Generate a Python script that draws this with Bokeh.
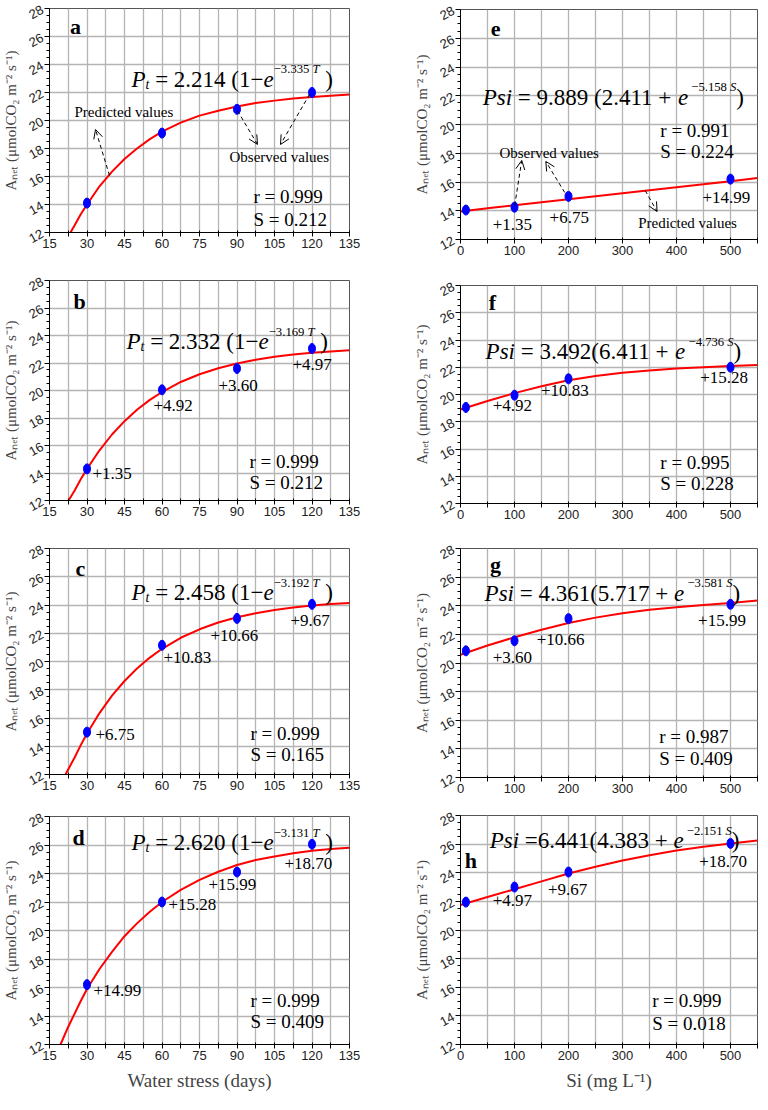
import numpy as np
from bokeh.plotting import figure
from bokeh.models import Range1d, FixedTicker, Label, Arrow, OpenHead
from bokeh.layouts import row, column
from bokeh.embed import file_html
from bokeh.resources import INLINE

# ---------------- data ----------------
days = [30, 60, 90, 120]
si_levels = [10, 100, 200, 500]

obs_a = [14.1, 19.1, 20.8, 22.0]
obs_b = [14.3, 20.05, 21.6, 23.05]
obs_c = [15.0, 21.15, 23.05, 24.05]
obs_d = [16.2, 22.0, 24.1, 26.05]
obs_e = [14.05, 14.25, 15.0, 16.2]
obs_f = [19.05, 19.95, 21.15, 22.0]
obs_g = [20.85, 21.55, 23.1, 24.1]
obs_h = [21.95, 23.0, 24.05, 26.05]

fit_days = [25, 27.5, 30, 35, 40, 45, 50, 55, 60, 67.5, 75, 82.5, 90, 97.5, 105, 112.5, 120, 127.5, 135]
fit_a_x = [23.4] + fit_days
fit_a_y = [12.0, 12.5, 13.3, 14.0, 15.3, 16.35, 17.25, 18.0, 18.65, 19.2, 19.85, 20.35, 20.7,
           21.0, 21.25, 21.42, 21.57, 21.68, 21.77, 21.85]
fit_b_x = [22.6] + fit_days
fit_b_y = [12.0, 12.71, 13.54, 14.3, 15.65, 16.8, 17.77, 18.6, 19.3, 19.89, 20.62, 21.18, 21.62,
           21.97, 22.24, 22.45, 22.62, 22.74, 22.84, 22.92]
fit_c_x = [21.4] + fit_days
fit_c_y = [12.0, 13.19, 14.08, 14.9, 16.35, 17.58, 18.62, 19.51, 20.26, 20.9, 21.68, 22.28, 22.76,
           23.13, 23.42, 23.65, 23.82, 23.96, 24.07, 24.15]
fit_d_x = [19.4, 22.5] + fit_days
fit_d_y = [12.0, 13.25, 14.15, 15.05, 15.9, 17.3, 18.5, 19.6, 20.5, 21.3, 22.0, 22.85, 23.55, 24.12,
           24.6, 24.95, 25.2, 25.42, 25.6, 25.72, 25.8]

fit_si_x = [0, 50, 100, 150, 200, 250, 300, 350, 400, 450, 500, 550]
fit_e_y = [13.95, 14.17, 14.38, 14.59, 14.8, 15.01, 15.22, 15.43, 15.64, 15.85, 16.06, 16.27]
fit_f_y = [18.9, 19.52, 20.1, 20.6, 21.05, 21.35, 21.6, 21.77, 21.9, 22.0, 22.1, 22.17]
fit_g_y = [20.58, 21.22, 21.8, 22.32, 22.8, 23.17, 23.48, 23.72, 23.9, 24.06, 24.2, 24.36]
fit_h_y = [21.75, 22.3, 22.85, 23.4, 23.95, 24.42, 24.85, 25.22, 25.55, 25.82, 26.05, 26.25]

x_ticks_days = [15, 30, 45, 60, 75, 90, 105, 120, 135]
x_minor_days = [22.5, 37.5, 52.5, 67.5, 82.5, 97.5, 112.5, 127.5]
x_ticks_si = [0, 100, 200, 300, 400, 500]
x_minor_si = [50, 150, 250, 350, 450, 550]
y_ticks = [12, 14, 16, 18, 20, 22, 24, 26, 28]

gains_b = ["+1.35", "+4.92", "+3.60", "+4.97"]
gains_c = ["+6.75", "+10.83", "+10.66", "+9.67"]
gains_d = ["+14.99", "+15.28", "+15.99", "+18.70"]
gains_e = ["+1.35", "+6.75", "+14.99"]
gains_f = ["+4.92", "+10.83", "+15.28"]
gains_g = ["+3.60", "+10.66", "+15.99"]
gains_h = ["+4.97", "+9.67", "+18.70"]

eq_coef = {"a": ("2.214", "3.335"), "b": ("2.332", "3.169"),
           "c": ("2.458", "3.192"), "d": ("2.620", "3.131"),
           "e": ("9.889", "2.411", "5.158"), "f": ("3.492", "6.411", "4.736"),
           "g": ("4.361", "5.717", "3.581"), "h": ("6.441", "4.383", "2.151")}
stats = {"a": ("0.999", "0.212"), "b": ("0.999", "0.212"), "c": ("0.999", "0.165"),
         "d": ("0.999", "0.409"), "e": ("0.991", "0.224"), "f": ("0.995", "0.228"),
         "g": ("0.987", "0.409"), "h": ("0.999", "0.018")}

# ---------------- styling helpers ----------------
SERIF = "Liberation Serif"
SANS = "Liberation Sans"
GRID = "#b4b4b4"
W_REG = {c: 0.5 for c in "0123456789"}
W_REG.update({".": 0.25, " ": 0.25, "=": 0.564, "+": 0.564, "−": 0.564, "(": 0.333, ")": 0.333})
W_IT = {"P": 0.611, "t": 0.278, "s": 0.389, "i": 0.278, "e": 0.444, "T": 0.556, "S": 0.5, " ": 0.25}


def tw(s, it):
    tab = W_IT if it else W_REG
    return sum(tab.get(c, 0.5) for c in s)


def rich(p, x, y, pieces, size):
    off = 0.0
    for txt_, it, scale, dy in pieces:
        fs = size * scale
        lead = len(txt_) - len(txt_.lstrip(" "))
        trail = len(txt_) - len(txt_.rstrip(" "))
        off += lead * 0.25 * fs
        core = txt_.strip(" ")
        if core:
            p.add_layout(Label(x=x, y=y, x_offset=off, y_offset=dy, text=core,
                               text_font=SERIF, text_font_size=f"{fs:.1f}px",
                               text_font_style="italic" if it else "normal",
                               text_baseline="alphabetic", text_align="left", text_color="black"))
        off += tw(core, it) * fs + trail * 0.25 * fs


def eq_t(c):
    coef, k = c
    return [("P", 1, 1, 0), ("t", 1, 0.6, -5), (f" = {coef} (1−", 0, 1, 0), ("e", 1, 1, 0),
            (f"−{k} ", 0, 0.55, 10), ("T", 1, 0.55, 10), (" )", 0, 1, 0)]


def eq_s(c, sp=" ", gap=" "):
    a, b, k = c
    return [("Psi", 1, 1, 0), (f" ={sp}{a}{gap}({b} + ", 0, 1, 0), ("e", 1, 1, 0),
            (f" −{k} ", 0, 0.55, 10), ("S", 1, 0.55, 10), (")", 0, 1, 0)]


def base_fig(kind, frame_h, top, bottom, xlabel=None):
    if kind == "days":
        xr, ticks, minor = Range1d(15, 135), x_ticks_days, x_minor_days
        left, fw, right = 40, 300, 32
    else:
        xr, ticks, minor = Range1d(0, 550), x_ticks_si, x_minor_si
        left, fw, right = 79, 297, 1
    p = figure(x_range=xr, y_range=Range1d(12, 28), frame_width=fw, frame_height=frame_h,
               min_border_left=left, min_border_right=right, min_border_top=top,
               min_border_bottom=bottom, output_backend="svg", toolbar_location=None)
    p.xaxis.ticker = FixedTicker(ticks=ticks, minor_ticks=minor)
    yminor = [v for v in np.arange(12.5, 28, 0.5) if v not in y_ticks]
    p.yaxis.ticker = FixedTicker(ticks=y_ticks, minor_ticks=yminor)
    for ax in (p.xaxis[0], p.yaxis[0]):
        ax.axis_line_color = "black"
        ax.major_tick_line_color = "black"
        ax.minor_tick_line_color = "black"
        ax.major_label_text_font = SANS
        ax.major_label_text_font_size = "13px"
        ax.major_label_text_color = "#222222"
        ax.major_label_standoff = 2
    p.xaxis.major_tick_out = 4
    p.xaxis.major_tick_in = 2
    p.xaxis.minor_tick_out = 4
    p.xaxis.minor_tick_in = 2
    p.yaxis.major_tick_out = 5
    p.yaxis.major_tick_in = 0
    p.yaxis.minor_tick_out = 3
    p.yaxis.minor_tick_in = 0
    p.yaxis.major_label_orientation = 0.5
    p.yaxis.axis_label = "Aₙₑₜ (μmolCO₂ m⁻² s⁻¹)"
    p.yaxis.axis_label_text_font = SERIF
    p.yaxis.axis_label_text_font_style = "normal"
    p.yaxis.axis_label_text_font_size = "15px"
    p.yaxis.axis_label_standoff = 3
    if xlabel:
        p.xaxis.axis_label = xlabel
        p.xaxis.axis_label_text_font = SERIF
        p.xaxis.axis_label_text_font_style = "normal"
        p.xaxis.axis_label_text_font_size = "19px"
        p.xaxis.axis_label_standoff = 7
    p.xgrid.grid_line_color = GRID
    p.xgrid.grid_line_width = 1.3
    p.xgrid.minor_grid_line_color = GRID
    p.xgrid.minor_grid_line_width = 1.3
    p.ygrid.grid_line_color = GRID
    p.ygrid.grid_line_width = 1.3
    p.outline_line_color = "#555555"
    p.outline_line_width = 1
    p.background_fill_color = "white"
    p.border_fill_color = "white"
    return p


def add_series(p, xs, obs, fx, fy):
    p.line(fx, fy, line_color="#ff0000", line_width=2)
    p.ellipse(x=xs, y=obs, width=7, height=10, width_units="screen", height_units="screen",
              fill_color="#0000ff", line_color="#0000ff")


def txt(p, x, y, s, size, bold=False, align="left"):
    p.add_layout(Label(x=x, y=y, text=s, text_font=SERIF, text_font_size=f"{size}px",
                       text_font_style="bold" if bold else "normal", text_baseline="middle",
                       text_align=align, text_color="black"))


def arrow(p, x0, y0, x1, y1):
    p.add_layout(Arrow(x_start=x0, y_start=y0, x_end=x1, y_end=y1, line_color="black",
                       line_width=1, line_dash="4 3",
                       end=OpenHead(size=9, line_width=1, line_color="black")))


def stat_text(p, key, x, y1, y2):
    r, s = stats[key]
    txt(p, x, y1, f"r = {r}", 19)
    txt(p, x, y2, f"S = {s}", 19)


def gains(p, labels, pos):
    for lab, (x, y) in zip(labels, pos):
        txt(p, x, y, lab, 17)


# ---------------- panels ----------------
# left column
pa = base_fig("days", 224, 8, 30)
add_series(pa, days, obs_a, fit_a_x, fit_a_y)
txt(pa, 25.4, 26.75, "a", 22, bold=True, align="center")
rich(pa, 47.8, 22.95, eq_t(eq_coef["a"]), 23)
stat_text(pa, "a", 96.6, 14.57, 12.93)
txt(pa, 25, 20.64, "Predicted values", 15)
txt(pa, 87, 17.36, "Observed values", 15)
arrow(pa, 39, 16.07, 33.4, 19.36)
arrow(pa, 90.2, 20.7, 98.2, 18.29)
arrow(pa, 119, 21.86, 107.4, 18.29)

pb = base_fig("days", 220, 18, 30)
add_series(pb, days, obs_b, fit_b_x, fit_b_y)
txt(pb, 27, 26.45, "b", 22, bold=True, align="center")
rich(pb, 45.8, 23.53, eq_t(eq_coef["b"]), 23)
stat_text(pb, "b", 95, 14.84, 13.3)
gains(pb, gains_b, [(32.2, 13.96), (56.6, 18.9), (82.6, 20.4), (112.2, 21.9)])

pc = base_fig("days", 226, 18, 30)
add_series(pc, days, obs_c, fit_c_x, fit_c_y)
txt(pc, 27.4, 26.6, "c", 22, bold=True, align="center")
rich(pc, 47.8, 24.86, eq_t(eq_coef["c"]), 23)
stat_text(pc, "c", 95.4, 14.89, 13.41)
gains(pc, gains_c, [(33.4, 14.82), (60.6, 20.3), (79.4, 21.87), (111.4, 22.9)])

pd_ = base_fig("days", 228, 12, 50, xlabel="Water stress (days)")
add_series(pd_, days, obs_d, fit_d_x, fit_d_y)
txt(pd_, 26.6, 26.55, "d", 22, bold=True, align="center")
rich(pd_, 47.8, 26.16, eq_t(eq_coef["d"]), 23)
stat_text(pd_, "d", 95.4, 15.1, 13.6)
gains(pd_, gains_d, [(32.6, 15.81), (62.6, 21.84), (78.6, 23.2), (109, 24.68)])

# right column
pe = base_fig("si", 230, 9, 30)
add_series(pe, si_levels, obs_e, fit_si_x, fit_e_y)
txt(pe, 65, 26.65, "e", 22, bold=True, align="center")
rich(pe, 41, 21.91, eq_s(eq_coef["e"]), 23)
stat_text(pe, "e", 370, 19.58, 18.12)
gains(pe, gains_e, [(59.5, 13.04), (165, 13.53), (448, 14.92)])
txt(pe, 72, 18.05, "Observed values", 15)
txt(pe, 329, 13.18, "Predicted values", 15)
arrow(pe, 100.4, 14.37, 113.4, 17.5)
arrow(pe, 193, 15.27, 158, 17.43)
arrow(pe, 342, 15.41, 364, 13.95)

pf = base_fig("si", 218, 16, 30)
add_series(pf, si_levels, obs_f, fit_si_x, fit_f_y)
txt(pf, 59, 26.75, "f", 22, bold=True, align="center")
rich(pf, 46.5, 23.12, eq_s(eq_coef["f"], gap=""), 23)
stat_text(pf, "f", 370, 15.0, 13.47)
gains(pf, gains_f, [(59.5, 19.19), (149, 20.3), (444, 21.25)])

pg = base_fig("si", 229, 15, 30)
add_series(pg, si_levels, obs_g, fit_si_x, fit_g_y)
txt(pg, 65, 26.85, "g", 22, bold=True, align="center")
rich(pg, 44.6, 24.88, eq_s(eq_coef["g"], gap=""), 23)
stat_text(pg, "g", 368, 14.85, 13.35)
gains(pg, gains_g, [(59.5, 20.35), (141, 21.65), (440, 22.97)])

ph = base_fig("si", 229, 8, 50, xlabel="Si (mg L⁻¹)")
add_series(ph, si_levels, obs_h, fit_si_x, fit_h_y)
txt(ph, 19, 24.85, "h", 22, bold=True, align="center")
rich(ph, 54, 26.25, eq_s(eq_coef["h"], sp="", gap=""), 23)
stat_text(ph, "h", 355, 15.04, 13.46)
gains(ph, gains_h, [(59.5, 22.03), (162, 22.8), (442, 24.8)])

layout = row(column(pa, pb, pc, pd_), column(pe, pf, pg, ph))
open("out.html", "w").write(file_html(layout, INLINE))
